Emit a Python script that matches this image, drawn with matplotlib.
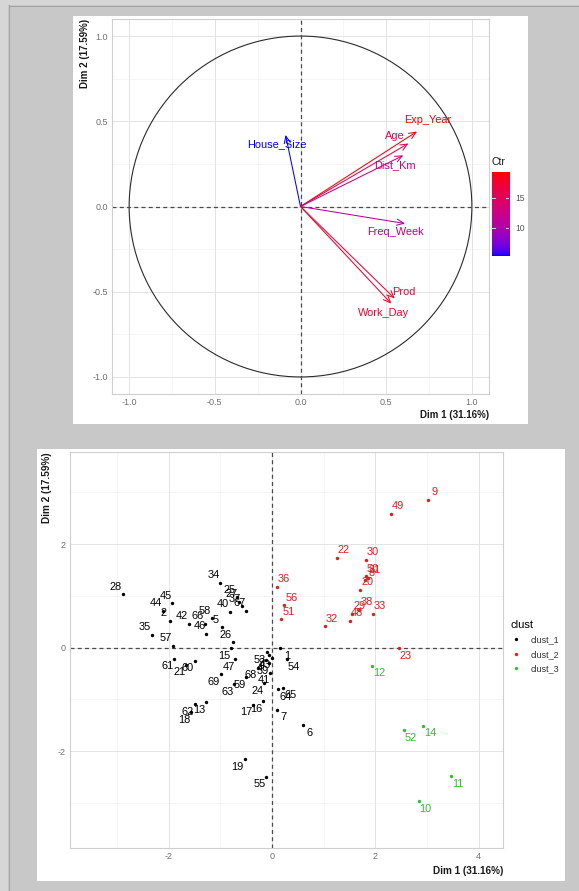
import numpy as np
import matplotlib
matplotlib.use("Agg")
import matplotlib.pyplot as plt
from matplotlib.patches import Rectangle, Circle
from matplotlib.lines import Line2D
from matplotlib.colors import ListedColormap, Normalize

plt.rcParams['font.family'] = ['Liberation Sans', 'DejaVu Sans']
plt.rcParams['axes.unicode_minus'] = False

W, H, DPI = 579, 891, 100

# ---------------- data ----------------
dim1_pct = 31.16
dim2_pct = 17.59

var_names = ['Exp_Year', 'Age', 'Dist_Km', 'House_Size', 'Freq_Week', 'Prod', 'Work_Day']
var_dim1 = [0.68, 0.63, 0.60, -0.087, 0.61, 0.55, 0.53]
var_dim2 = [0.44, 0.37, 0.30, 0.42, -0.10, -0.54, -0.57]

cluster_names = ['clust_1', 'clust_2', 'clust_3']

ind_labels = [
    # clust_2
    '9', '49', '22', '30', '50', '31', '8', '20', '38', '29', '48', '33', '32', '23', '36', '56', '51',
    # clust_3
    '12', '52', '14', '11', '10',
    # clust_1
    '28', '34', '25', '27', '37', '67', '45', '44', '2', '42', '66', '46', '58', '5', '40', '35', '57',
    '26', '15', '61', '21', '60', '47', '69', '63', '59', '68', '41', '39', '24', '17', '16', '62',
    '13', '18', '19', '55', '7', '6', '1', '54', '64', '65', '53', '3', '43', '4',
]
ind_dim1 = [
    3.01, 2.30, 1.25, 1.81, 1.81, 1.85, 1.79, 1.71, 1.69, 1.55, 1.50, 1.96, 1.03, 2.45, 0.09, 0.24, 0.18,
    1.94, 2.55, 2.93, 3.46, 2.84,
    -2.89, -1.00, -0.68, -0.64, -0.59, -0.50, -1.93, -2.11, -1.97, -1.61, -1.30, -1.27, -1.17, -0.96,
    -0.82, -2.32, -1.92, -0.76, -0.79, -1.89, -1.66, -1.49, -0.71, -0.99, -0.73, -0.50, -0.28, -0.03,
    -0.05, -0.15, -0.37, -0.17, -1.50, -1.27, -1.56, -0.53, -0.11, 0.09, 0.60, 0.15, 0.29, 0.12, 0.22,
    -0.10, -0.06, -0.01, -0.11,
]
ind_dim2 = [
    2.86, 2.58, 1.74, 1.70, 1.38, 1.35, 1.30, 1.12, 0.73, 0.66, 0.52, 0.66, 0.41, -0.01, 1.17, 0.82, 0.55,
    -0.35, -1.59, -1.51, -2.48, -2.96,
    1.03, 1.25, 0.97, 0.88, 0.80, 0.71, 0.86, 0.71, 0.52, 0.46, 0.46, 0.27, 0.57, 0.39,
    0.69, 0.25, 0.03, 0.10, -0.01, -0.21, -0.33, -0.25, -0.22, -0.51, -0.70, -0.57, -0.39, -0.48,
    -0.30, -0.69, -1.10, -1.03, -1.09, -1.05, -1.25, -2.15, -2.49, -1.20, -1.50, -0.01, -0.22, -0.80, -0.77,
    -0.09, -0.14, -0.19, -0.24,
]
ind_cluster = ['clust_2'] * 17 + ['clust_3'] * 5 + ['clust_1'] * 47

# ---------------- helpers ----------------
def fx(px):
    return px / W

def fy(py):
    return 1 - py / H

def box(x0, y0, x1, y1):
    return [fx(x0), fy(y1), (x1 - x0) / W, (y1 - y0) / H]


def _srgb_to_lab(rgb):
    rgb = np.asarray(rgb, float)
    lin = np.where(rgb <= 0.04045, rgb / 12.92, ((rgb + 0.055) / 1.055) ** 2.4)
    M = np.array([[0.4124, 0.3576, 0.1805],
                  [0.2126, 0.7152, 0.0722],
                  [0.0193, 0.1192, 0.9505]])
    xyz = M @ lin / np.array([0.95047, 1.0, 1.08883])
    f = np.where(xyz > 0.008856, np.cbrt(xyz), 7.787 * xyz + 16 / 116)
    return np.array([116 * f[1] - 16, 500 * (f[0] - f[1]), 200 * (f[1] - f[2])])


def _lab_to_srgb(lab):
    L, a, b = lab
    fyv = (L + 16) / 116
    fxv = fyv + a / 500
    fzv = fyv - b / 200
    f = np.array([fxv, fyv, fzv])
    xyz = np.where(f ** 3 > 0.008856, f ** 3, (f - 16 / 116) / 7.787)
    xyz = xyz * np.array([0.95047, 1.0, 1.08883])
    Minv = np.array([[3.2406, -1.5372, -0.4986],
                     [-0.9689, 1.8758, 0.0415],
                     [0.0557, -0.2040, 1.0570]])
    lin = Minv @ xyz
    lin = np.clip(lin, 0, 1)
    rgb = np.where(lin <= 0.0031308, 12.92 * lin, 1.055 * lin ** (1 / 2.4) - 0.055)
    return np.clip(rgb, 0, 1)


def lab_gradient(c_low, c_high, n=256):
    l0, l1 = _srgb_to_lab(c_low), _srgb_to_lab(c_high)
    return ListedColormap([_lab_to_srgb(l0 + (l1 - l0) * t) for t in np.linspace(0, 1, n)])


# ---------------- figure & frame ----------------
fig = plt.figure(figsize=(W / DPI, H / DPI), dpi=DPI, facecolor='#c8c8c8')
fig.patches.append(Rectangle((0, fy(5)), 1, 1 - fy(5), transform=fig.transFigure,
                             facecolor='#d6d6d6', edgecolor='none', zorder=-5))
fig.patches.append(Rectangle((0, 0), fx(8), 1, transform=fig.transFigure,
                             facecolor='#d6d6d6', edgecolor='none', zorder=-5))
fig.add_artist(Line2D([fx(8.5), fx(8.5)], [0, fy(5)], color='#a4a4a4', lw=0.8,
                      transform=fig.transFigure))
fig.add_artist(Line2D([fx(8.5), 1], [fy(5.5), fy(5.5)], color='#a4a4a4', lw=0.8,
                      transform=fig.transFigure))
# white card panels
for (x0, y0, x1, y1) in [(73, 16, 528, 424), (37, 449, 565, 881)]:
    fig.patches.append(Rectangle((fx(x0), fy(y1)), (x1 - x0) / W, (y1 - y0) / H,
                                 transform=fig.transFigure, facecolor='white',
                                 edgecolor='none', zorder=-4))

TICK_COL = '#707070'
GRID_MAJ = '#e4e4e4'
GRID_MIN = '#f1f1f1'
BORDER = '#cfcfcf'
DASH_COL = '#4a4a4a'


def style_axes(ax, xmaj, xmin_, ymaj, ymin_):
    ax.set_facecolor('white')
    for v in xmin_:
        ax.axvline(v, color=GRID_MIN, lw=0.45, zorder=0)
    for v in ymin_:
        ax.axhline(v, color=GRID_MIN, lw=0.45, zorder=0)
    for v in xmaj:
        ax.axvline(v, color=GRID_MAJ, lw=0.7, zorder=0)
    for v in ymaj:
        ax.axhline(v, color=GRID_MAJ, lw=0.7, zorder=0)
    ax.set_xticks(xmaj)
    ax.set_yticks(ymaj)
    ax.tick_params(length=0, labelsize=6.5, labelcolor=TICK_COL, pad=3)
    for s in ax.spines.values():
        s.set_color(BORDER)
        s.set_linewidth(0.8)


# ---------------- top: variables ----------------
ax1 = fig.add_axes(box(112, 19, 489, 394))
ax1.set_xlim(-1.1, 1.1)
ax1.set_ylim(-1.1, 1.1)
style_axes(ax1, [-1.0, -0.5, 0.0, 0.5, 1.0], [-0.75, -0.25, 0.25, 0.75],
           [-1.0, -0.5, 0.0, 0.5, 1.0], [-0.75, -0.25, 0.25, 0.75])
ax1.set_xticklabels(['-1.0', '-0.5', '0.0', '0.5', '1.0'])
ax1.set_yticklabels(['-1.0', '-0.5', '0.0', '0.5', '1.0'])
ax1.add_patch(Circle((0, 0), 1.0, fill=False, edgecolor='#2b2b2b', lw=0.8, zorder=2))
ax1.axhline(0, color=DASH_COL, lw=0.9, dashes=(3.2, 2.6), zorder=2)
ax1.axvline(0, color=DASH_COL, lw=0.9, dashes=(3.2, 2.6), zorder=2)

v1 = np.array(var_dim1)
v2 = np.array(var_dim2)
ctr = 100 * (v1 ** 2 + v2 ** 2) / (np.sum(v1 ** 2) + np.sum(v2 ** 2))
cmap = lab_gradient([0, 0, 1], [1, 0, 0])
norm = Normalize(vmin=ctr.min(), vmax=ctr.max())

# label anchor points for the variable names
var_label_xy = [(0.745, 0.51), (0.55, 0.415), (0.55, 0.244), (-0.136, 0.365),
                (0.553, -0.152), (0.60, -0.50), (0.486, -0.624)]
for name, a, b, c, lxy in zip(var_names, v1, v2, ctr, var_label_xy):
    col = cmap(norm(c))
    ax1.annotate('', xy=(a, b), xytext=(0, 0),
                 arrowprops=dict(arrowstyle='->,head_length=0.5,head_width=0.22',
                                 color=col, lw=0.75, shrinkA=0, shrinkB=0), zorder=3)
    ax1.text(lxy[0], lxy[1], name, color=col, fontsize=7.9, ha='center', va='center', zorder=4)

fig.text(fx(489), fy(415), f'Dim 1 ({dim1_pct:.2f}%)', ha='right', va='center',
         fontsize=7.0, fontweight='bold', color='#1a1a1a')
fig.text(fx(85), fy(19), f'Dim 2 ({dim2_pct:.2f}%)', ha='center', va='top', rotation=90,
         fontsize=7.0, fontweight='bold', color='#1a1a1a')

# colour bar
cax = fig.add_axes(box(491.7, 172.3, 509, 256))
grad = np.linspace(ctr.min(), ctr.max(), 200).reshape(-1, 1)
cax.imshow(grad, aspect='auto', cmap=cmap, norm=norm, origin='lower',
           extent=(0, 1, ctr.min(), ctr.max()))
cax.set_xlim(0, 1)
cax.set_ylim(ctr.min(), ctr.max())
cax.set_xticks([])
cax.set_yticks([])
for s in cax.spines.values():
    s.set_visible(False)
for t in [10, 15]:
    cax.plot([0, 0.2], [t, t], color='white', lw=0.7, alpha=0.8)
    cax.plot([0.8, 1], [t, t], color='white', lw=0.7, alpha=0.8)
    fig.text(fx(515), fy(256 - (t - ctr.min()) / (ctr.max() - ctr.min()) * (256 - 172.3)),
             str(t), fontsize=6.2, color='#555555', ha='left', va='center')
fig.text(fx(492), fy(162), 'Ctr', fontsize=7.6, color='#1a1a1a', ha='left', va='center')

# ---------------- bottom: individuals ----------------
ax2 = fig.add_axes(box(70, 452, 503, 848))
ax2.set_xlim(-3.91, 4.47)
ax2.set_ylim(-3.87, 3.78)
style_axes(ax2, [-2, 0, 2, 4], [-3, -1, 1, 3], [-2, 0, 2], [-3, -1, 1, 3])
ax2.axhline(0, color=DASH_COL, lw=0.9, dashes=(3.2, 2.6), zorder=2)
ax2.axvline(0, color=DASH_COL, lw=0.9, dashes=(3.2, 2.6), zorder=2)

clust_colors = {'clust_1': '#000000', 'clust_2': '#e41a1c', 'clust_3': '#2fbf2f'}
xs = np.array(ind_dim1)
ys = np.array(ind_dim2)
for cl in cluster_names:
    m = np.array([c == cl for c in ind_cluster])
    ax2.scatter(xs[m], ys[m], s=6, color=clust_colors[cl], linewidths=0, zorder=3)
for lab, x, y, cl in zip(ind_labels, xs, ys, ind_cluster):
    dx = 5.0 if x > 0 else -5.0
    dy = 5.5 if y > 0 else -5.5
    ax2.annotate(lab, (x, y), xytext=(dx, dy), textcoords='offset points',
                 ha='center', va='center', fontsize=7.9, color=clust_colors[cl], zorder=4)

fig.text(fx(503), fy(871), f'Dim 1 ({dim1_pct:.2f}%)', ha='right', va='center',
         fontsize=7.2, fontweight='bold', color='#1a1a1a')
fig.text(fx(47.5), fy(452), f'Dim 2 ({dim2_pct:.2f}%)', ha='center', va='top', rotation=90,
         fontsize=7.2, fontweight='bold', color='#1a1a1a')

handles = [Line2D([], [], ls='none', marker='o', ms=2.4, color=clust_colors[c], mew=0)
           for c in cluster_names]
fig.legend(handles, cluster_names, title='clust', loc='upper left',
           bbox_to_anchor=(fx(502), fy(612)), frameon=False, fontsize=6.5,
           title_fontsize=8, handlelength=1.2, handletextpad=1.1, labelspacing=0.6,
           alignment='left', labelcolor='#333333')

fig.savefig('out.png', dpi=DPI, facecolor=fig.get_facecolor())
